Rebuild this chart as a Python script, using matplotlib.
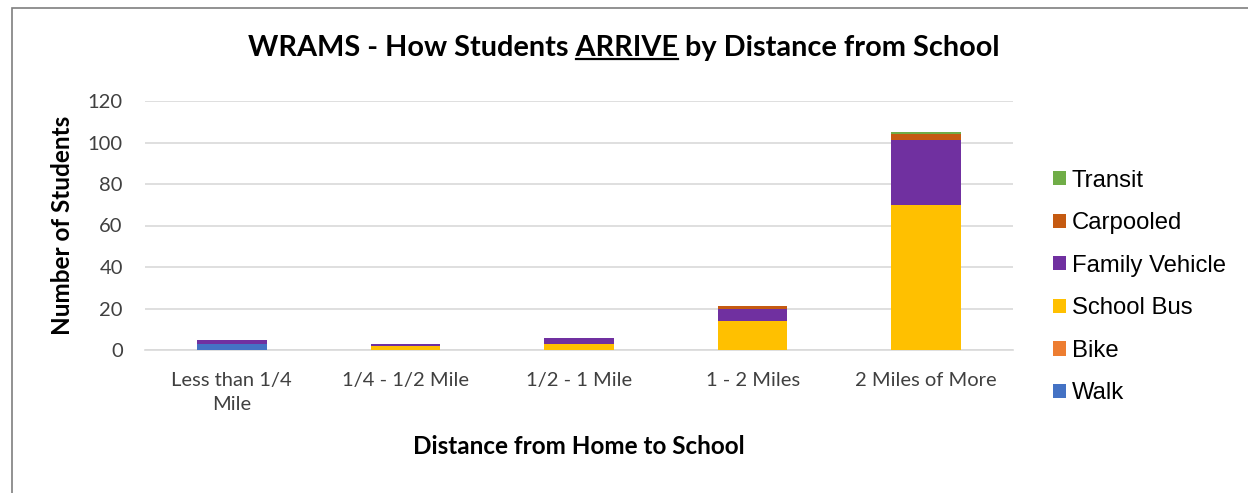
import matplotlib
matplotlib.use('Agg')
import matplotlib.pyplot as plt
from matplotlib.patches import Rectangle
from matplotlib.lines import Line2D
import numpy as np

categories = ['Less than 1/4\nMile', '1/4 - 1/2 Mile', '1/2 - 1 Mile', '1 - 2 Miles', '2 Miles of More']
walk = [3, 0, 0, 0, 0]
bike = [0, 0, 0, 0, 0]
school_bus = [0, 2, 3, 14, 70]
family_vehicle = [2, 1, 3, 6, 31]
carpooled = [0, 0, 0, 1, 3]
transit = [0, 0, 0, 0, 1]

series = [('Walk', walk, '#4472C4'),
          ('Bike', bike, '#ED7D31'),
          ('School Bus', school_bus, '#FFC000'),
          ('Family Vehicle', family_vehicle, '#7030A0'),
          ('Carpooled', carpooled, '#C55A11'),
          ('Transit', transit, '#70AD47')]

plt.rcParams['font.family'] = ['Lato', 'DejaVu Sans']

fig = plt.figure(figsize=(12.48, 4.93), dpi=100)
ax = fig.add_axes([145/1248, 1-350/493, 868/1248, 249/493])

x = np.arange(len(categories))
bottom = np.zeros(len(categories))
handles = []
for name, vals, col in series:
    b = ax.bar(x, vals, 0.4, bottom=bottom, color=col, label=name, zorder=3)
    handles.append(b)
    bottom += np.array(vals)

ax.set_xlim(-0.5, 4.5)
ax.set_ylim(0, 120)
ax.set_yticks(range(0, 121, 20))
ax.set_xticks(x)
ax.set_xticklabels(categories, fontsize=14.5, color='#404040', linespacing=1.45)
ax.tick_params(axis='y', labelsize=14.5, colors='#404040', length=0, pad=16)
ax.tick_params(axis='x', length=0, pad=16)
ax.grid(axis='y', color='#D9D9D9', linewidth=1.2, zorder=0)
for s in ['top', 'right', 'left']:
    ax.spines[s].set_visible(False)
ax.spines['bottom'].set_color('#D9D9D9')
ax.spines['bottom'].set_linewidth(1.2)

ax.set_ylabel('Number of Students', fontsize=17.5, fontweight='bold', labelpad=10)
ax.set_xlabel('Distance from Home to School', fontsize=17.5, fontweight='bold', labelpad=16)

# title with underlined word
pre, word, post = 'WRAMS - How Students ', 'ARRIVE', ' by Distance from School'
tfs = 20.8
ty = 1 - 48/493
title = fig.text(0.5, ty, pre + word + post, ha='center', va='center',
                 fontsize=tfs, fontweight='bold')
r = fig.canvas.get_renderer()
full = title.get_window_extent(r)
tmp = fig.text(0, 0, pre.rstrip() + ' X', fontsize=tfs, fontweight='bold')
tmpx = fig.text(0, 0, 'X', fontsize=tfs, fontweight='bold')
tmpw = fig.text(0, 0, word, fontsize=tfs, fontweight='bold')
w_pre = tmp.get_window_extent(r).width - tmpx.get_window_extent(r).width
w_word = tmpw.get_window_extent(r).width
tmp.remove(); tmpx.remove(); tmpw.remove()
W = fig.bbox.width
H = fig.bbox.height
x0 = (full.x0 + w_pre) / W
x1 = x0 + w_word / W
yline = (full.y0 + 2) / H
fig.add_artist(Line2D([x0, x1], [yline, yline], transform=fig.transFigure,
                      color='black', linewidth=1.6))

ax.legend(handles[::-1], [s[0] for s in series][::-1], loc='center left',
          bbox_to_anchor=(1.021, 0.253), frameon=False,
          prop={'family': 'Liberation Sans', 'size': 17.2},
          handlelength=0.55, handleheight=0.55, handletextpad=0.25, labelspacing=0.86)

fig.add_artist(Rectangle((12/1248, -0.1), 1.2, 1.1 - 8/493, transform=fig.transFigure,
                         fill=False, edgecolor='#7F7F7F', linewidth=1.2))

fig.savefig('out.png', dpi=100)
